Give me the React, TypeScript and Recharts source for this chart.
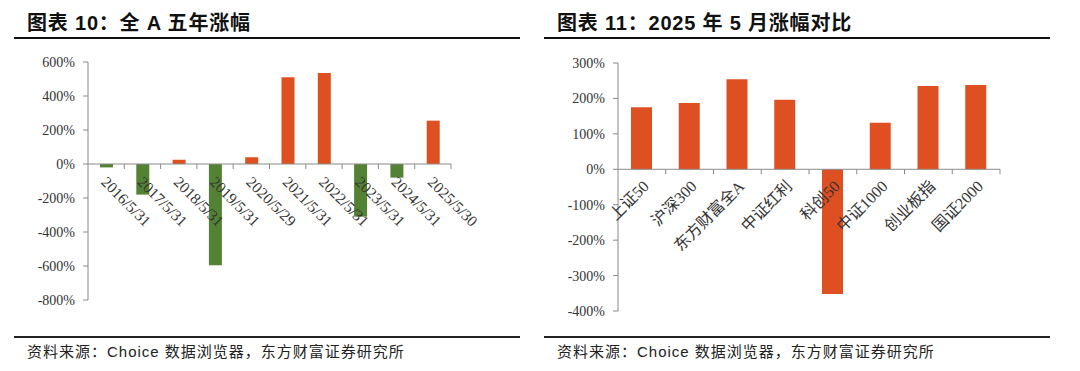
import React from 'react';
import { BarChart, Bar, XAxis, YAxis, ReferenceLine, Cell } from 'recharts';

// 图表10：全A五年涨幅
const leftCategories = [
  '2016/5/31', '2017/5/31', '2018/5/31', '2019/5/31', '2020/5/29',
  '2021/5/31', '2022/5/31', '2023/5/31', '2024/5/31', '2025/5/30',
];
const leftValues = [-20, -180, 25, -595, 40, 510, 535, -310, -80, 255];
const leftTicks = [-800, -600, -400, -200, 0, 200, 400, 600];

// 图表11：2025年5月涨幅对比
const rightCategories = ['上证50', '沪深300', '东方财富全A', '中证红利', '科创50', '中证1000', '创业板指', '国证2000'];
const rightValues = [175, 187, 254, 196, -352, 131, 235, 238];
const rightTicks = [-400, -300, -200, -100, 0, 100, 200, 300];

const ORANGE = '#DE5021';
const GREEN = '#548235';
const AXIS = '#8a8a8a';
const SERIF = '"Liberation Serif", "Noto Sans CJK SC", serif';
const SANS = '"Liberation Sans", Arial, "Noto Sans CJK SC", sans-serif';

const CH = 275; // chart svg height
const XH = 1;   // x axis height (labels are drawn at the zero line)

type PanelProps = {
  title: string;
  left: number;
  categories: string[];
  values: number[];
  ticks: number[];
  margin: { top: number; right: number; bottom: number; left: number };
  yWidth: number;
  barSize: number;
  colorOf: (v: number) => string;
  angle: number;
  dx: number;
  dy: number;
  labelSize: number;
};

const Panel: React.FC<PanelProps> = ({
  title, left, categories, values, ticks, margin, yWidth, barSize, colorOf, angle, dx, dy, labelSize,
}) => {
  const data = categories.map((name, i) => ({ name, value: values[i] }));
  const min = ticks[0];
  const max = ticks[ticks.length - 1];
  const plotH = CH - margin.top - margin.bottom - XH;
  const zeroY = margin.top + (plotH * max) / (max - min);
  const plotW = 540 - margin.left - margin.right - yWidth;
  const band = plotW / categories.length;

  const renderTick = (props: any) => {
    const { x, payload } = props;
    return (
      <g>
        <line x1={x + band / 2} y1={zeroY} x2={x + band / 2} y2={zeroY + 5} stroke={AXIS} />
        <text
          transform={`translate(${x + dx},${zeroY + dy}) rotate(${angle})`}
          textAnchor={angle > 0 ? 'start' : 'end'}
          fontSize={labelSize}
          fontFamily={SERIF}
          fill="#333"
        >
          {payload.value}
        </text>
      </g>
    );
  };

  return (
    <div style={{ position: 'absolute', left, top: 0, width: 540, height: 371 }}>
      <div
        style={{
          position: 'absolute', left: 27, top: 7, fontFamily: SANS, fontWeight: 700,
          fontSize: 20, color: '#111', whiteSpace: 'nowrap', letterSpacing: 0.8,
        }}
      >
        {title}
      </div>
      <div style={{ position: 'absolute', left: 14, top: 37, width: 506, height: 2, background: '#111' }} />
      <div style={{ position: 'absolute', left: 0, top: 45 }}>
        <BarChart width={540} height={CH} data={data} margin={margin}>
          <XAxis
            dataKey="name"
            height={XH}
            axisLine={false}
            tickLine={false}
            interval={0}
            tick={renderTick}
          />
          <YAxis
            width={yWidth}
            domain={[min, max]}
            ticks={ticks}
            interval={0}
            tickFormatter={(v: number) => `${v}%`}
            axisLine={{ stroke: AXIS }}
            tickLine={{ stroke: AXIS }}
            tickSize={5}
            tickMargin={8}
            tick={{ fontSize: 14, fontFamily: SERIF, fill: '#333' }}
          />
          <ReferenceLine y={0} stroke={AXIS} />
          <Bar dataKey="value" barSize={barSize} isAnimationActive={false}>
            {data.map((d, i) => (
              <Cell key={i} fill={colorOf(d.value)} />
            ))}
          </Bar>
        </BarChart>
      </div>
      <div style={{ position: 'absolute', left: 14, top: 336, width: 506, height: 1.5, background: '#222' }} />
      <div
        style={{
          position: 'absolute', left: 27, top: 340, fontFamily: SANS, fontSize: 15,
          color: '#222', whiteSpace: 'nowrap', letterSpacing: 1,
        }}
      >
        资料来源：Choice 数据浏览器，东方财富证券研究所
      </div>
    </div>
  );
};

export default function App() {
  return (
    <div style={{ position: 'relative', width: 1080, height: 371, margin: -8, background: '#fff', overflow: 'hidden' }}>
      <Panel
        title="图表 10：全 A 五年涨幅"
        left={0}
        categories={leftCategories}
        values={leftValues}
        ticks={leftTicks}
        margin={{ top: 17, right: 89, bottom: 19, left: 0 }}
        yWidth={88}
        barSize={13}
        colorOf={(v) => (v >= 0 ? ORANGE : GREEN)}
        angle={45}
        dx={-6}
        dy={19}
        labelSize={15.5}
      />
      <Panel
        title="图表 11：2025 年 5 月涨幅对比"
        left={530}
        categories={rightCategories}
        values={rightValues}
        ticks={rightTicks}
        margin={{ top: 18, right: 70, bottom: 8, left: 0 }}
        yWidth={88}
        barSize={21}
        colorOf={() => ORANGE}
        angle={-45}
        dx={8}
        dy={18}
        labelSize={16}
      />
    </div>
  );
}
